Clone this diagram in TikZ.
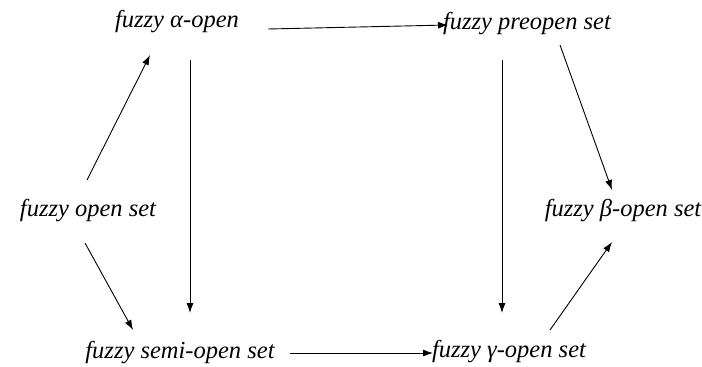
\documentclass[tikz,border=0pt]{standalone}
\usepackage{fontspec}
\setmainfont{Liberation Serif}
\usetikzlibrary{calc,arrows.meta}
\begin{document}
\begin{tikzpicture}[x=1pt,y=-1pt,
  lbl/.style={font=\fontsize{24.5}{28}\selectfont\itshape, inner sep=0pt},
  arr/.style={-{Latex[length=10pt,width=7pt]}, line width=0.9pt}]
\useasboundingbox (0,0) rectangle (702,367);
\node[lbl] (a) at (177,22) {fuzzy α-open};
\node[lbl] (p) at (527,24) {fuzzy preopen set};
\node[lbl] (o) at (88,211) {fuzzy open set};
\node[lbl] (b) at (623,211) {fuzzy β-open set};
\node[lbl] (s) at (180,353) {fuzzy semi-open set};
\node[lbl] (g) at (509,352) {fuzzy γ-open set};
\draw[arr] ($(a.center)+(91,7)$) -- ($(p.center)+(-79,1)$);
\draw[arr] ($(o.center)+(-1,-31)$) -- ($(a.center)+(-27,33)$);
\draw[arr] ($(a.center)+(13,38)$) -- ($(s.center)+(10,-40)$);
\draw[arr] ($(o.center)+(-3,32)$) -- ($(s.center)+(-47,-23)$);
\draw[arr] ($(p.center)+(-25,36)$) -- ($(g.center)+(-7,-39)$);
\draw[arr] ($(p.center)+(33,21)$) -- ($(b.center)+(-11,-21)$);
\draw[arr] ($(g.center)+(41,-22)$) -- ($(b.center)+(-11,31)$);
\draw[arr] ($(s.center)+(110,0)$) -- ($(g.center)+(-76,1)$);
\end{tikzpicture}
\end{document}
